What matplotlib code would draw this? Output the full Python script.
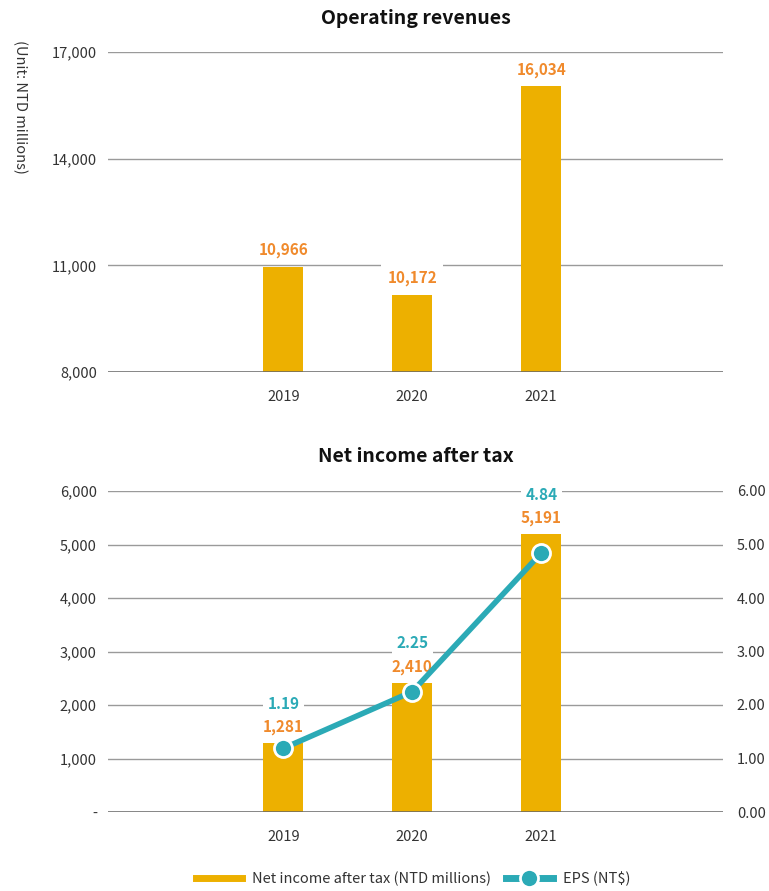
import matplotlib
matplotlib.use("Agg")
import matplotlib.pyplot as plt
from matplotlib.lines import Line2D
import numpy as np

plt.rcParams['font.family'] = ['Noto Sans CJK TC', 'DejaVu Sans']

years = ["2019", "2020", "2021"]
revenues = [10966, 10172, 16034]
net_income = [1281, 2410, 5191]
eps = [1.19, 2.25, 4.84]

rev_ticks = [8000, 11000, 14000, 17000]
ni_ticks = [0, 1000, 2000, 3000, 4000, 5000, 6000]
eps_ticks = [0, 1, 2, 3, 4, 5, 6]

BAR = '#EDB000'
ORANGE = '#F08A2C'
TEAL = '#2BAAB6'
GRID = '#9a9a9a'
BASE = '#666666'
TXT = '#333333'

fig = plt.figure(figsize=(7.69, 8.91), dpi=100)
W, H = 769, 891

def ax_rect(l, r, t, b):
    return [l / W, 1 - b / H, (r - l) / W, (b - t) / H]

x = np.arange(len(years))
xlim = (-1.36, 3.41)
bw = 0.31

def style(ax):
    for s in ax.spines.values():
        s.set_visible(False)
    ax.tick_params(axis='both', length=0, labelsize=10.5, colors=TXT)
    ax.set_xlim(*xlim)
    ax.set_xticks(x)
    ax.set_xticklabels(years)
    ax.tick_params(axis='x', pad=13)
    ax.tick_params(axis='y', pad=8)

def grid(ax, ticks):
    for t in ticks:
        if t == ticks[0]:
            ax.axhline(t, color=BASE, lw=1.1, zorder=3)
        else:
            ax.axhline(t, color=GRID, lw=1, zorder=1)

# Top chart
ax1 = fig.add_axes(ax_rect(108, 723, 52, 372))
style(ax1)
ax1.set_ylim(8000, 17000)
ax1.set_yticks(rev_ticks)
ax1.set_yticklabels([f"{v:,}" for v in rev_ticks])
grid(ax1, rev_ticks)
ax1.bar(x, revenues, width=bw, color=BAR, zorder=2)
for xi, v in zip(x, revenues):
    ax1.annotate(f"{v:,}", (xi, v), xytext=(0, 12), textcoords='offset points',
                 ha='center', va='center', color=ORANGE, fontsize=11, fontweight='semibold',
                 bbox=dict(boxstyle='square,pad=0.4', fc='white', ec='none'), zorder=4)
ax1.set_title("Operating revenues", fontsize=14, fontweight='bold', color='#111111', pad=20)
fig.text(20 / W, 1 - 40 / H, "(Unit: NTD millions)", rotation=-90, ha='center', va='top',
         fontsize=10.5, color=TXT)

# Bottom chart
ax2 = fig.add_axes(ax_rect(108, 723, 491, 812))
style(ax2)
ax2.set_ylim(0, 6000)
ax2.set_yticks(ni_ticks)
ax2.set_yticklabels(['-' if v == 0 else f"{v:,}" for v in ni_ticks])
grid(ax2, ni_ticks)
ax2.bar(x, net_income, width=bw, color=BAR, zorder=2)
ax2.set_title("Net income after tax", fontsize=14, fontweight='bold', color='#111111', pad=21)

ax3 = ax2.twinx()
for s in ax3.spines.values():
    s.set_visible(False)
ax3.set_ylim(0, 6)
ax3.set_yticks(eps_ticks)
ax3.set_yticklabels([f"{v:.2f}" for v in eps_ticks])
ax3.tick_params(axis='y', length=0, labelsize=10.5, colors=TXT, pad=10)
ax3.plot(x, eps, color=TEAL, lw=4, marker='o', ms=13, mfc=TEAL, mec='white', mew=2, zorder=5)

for xi, v, e in zip(x, net_income, eps):
    ax2.annotate(f"{v:,}", (xi, v), xytext=(0, 11.5), textcoords='offset points',
                 ha='center', va='center', color=ORANGE, fontsize=11, fontweight='semibold', zorder=4)
    ax2.annotate(f"{e:.2f}", (xi, v), xytext=(0, 28.5), textcoords='offset points',
                 ha='center', va='center', color=TEAL, fontsize=11, fontweight='semibold',
                 bbox=dict(boxstyle='square,pad=0.3', fc='white', ec='none'), zorder=4)

handles = [Line2D([0], [0], color=BAR, lw=5),
           Line2D([0], [0], color=TEAL, lw=5, marker='o', ms=13, mfc=TEAL, mec='white', mew=2)]
fig.legend(handles, ["Net income after tax (NTD millions)", "EPS (NT$)"],
           loc='center', bbox_to_anchor=(413 / W, 1 - 879 / H), ncol=2, frameon=False,
           fontsize=10.5, handlelength=3.2, columnspacing=1.0, handletextpad=0.7,
           labelcolor=TXT)

fig.savefig("out.png", dpi=100)
